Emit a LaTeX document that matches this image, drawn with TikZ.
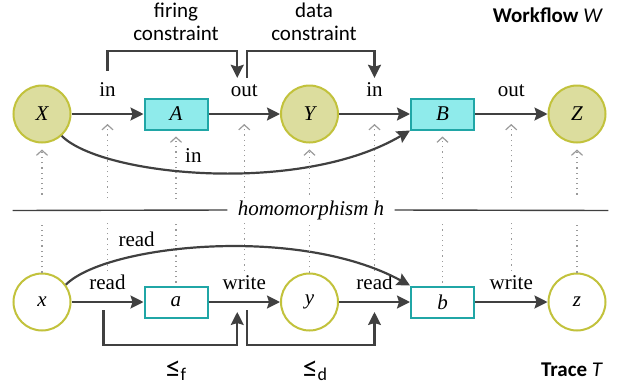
\documentclass[tikz,border=0pt]{standalone}
\usepackage{fontspec}
\setmainfont{Liberation Serif}
\setsansfont{Carlito}
\usepackage{xcolor}
\usetikzlibrary{arrows.meta,positioning}
\definecolor{ink}{HTML}{404040}
\definecolor{olivefill}{HTML}{DCDD9E}
\definecolor{oliveline}{HTML}{C2C23C}
\definecolor{cyanfill}{HTML}{8FEBEB}
\definecolor{tealline}{HTML}{20A6A6}
\definecolor{mapgray}{HTML}{9A9A9A}
\newcommand{\figsize}{\fontsize{10.5}{11.5}\selectfont}
% order symbol with a small lowered index
\newcommand{\orderrel}[1]{{\fontsize{15}{15}\selectfont ≤}\raisebox{-1.5pt}{\fontsize{9}{9}\selectfont #1}}
\tikzset{
  dataset/.style={
    circle,
    minimum size=28.5pt,
    inner sep=0pt,
    draw=oliveline,
    line width=1pt,
    font=\figsize\itshape
  },
  wfdata/.style={dataset, fill=olivefill},
  trdata/.style={dataset, fill=white},
  actor/.style={
    rectangle,
    minimum width=31.5pt,
    minimum height=15.5pt,
    inner sep=0pt,
    draw=tealline,
    line width=1pt,
    font=\figsize\itshape
  },
  wfactor/.style={actor, fill=cyanfill},
  tractor/.style={actor, fill=white},
  port/.style={
    inner sep=2pt,
    text height=0.7em,
    text depth=0.2em,
    font=\figsize
  },
  flow/.style={
    -{Stealth[length=6.5pt,width=6.5pt,inset=1pt]},
    draw=ink,
    line width=1.1pt
  },
  maps/.style={
    -{Straight Barb[length=2.5pt,width=5.5pt]},
    draw=mapgray,
    line width=0.6pt,
    dash pattern=on 0.6pt off 2pt
  },
  caption/.style={font=\sffamily\figsize, align=center},
  title/.style={font=\sffamily\figsize, anchor=east}
}

\begin{document}
\begin{tikzpicture}[x=0.5pt, y=-0.5pt]
\useasboundingbox (0,0) rectangle (623,387);

% ---- Workflow W ----
\node[wfdata] (X) at (42,114) {X};
\node[wfactor] (A) at (176,114) {A};
\node[wfdata] (Y) at (309.5,114) {Y};
\node[wfactor] (B) at (442.5,114) {B};
\node[wfdata] (Z) at (577,114) {Z};

\draw[flow] (X) -- node[port, above=4pt] (inXA) {in} coordinate (mXA) (A);
\draw[flow] (A) -- node[port, above=4pt] (outAY) {out} coordinate (mAY) (Y);
\draw[flow] (Y) -- node[port, above=4pt] (inYB) {in} coordinate (mYB) (B);
\draw[flow] (B) -- node[port, above=4pt] (outBZ) {out} coordinate (mBZ) (Z);
\draw[flow] (X.-48) .. controls +(40,40) and +(-110,65) ..
  node[port, above, pos=.46] (inXB) {in} (B.south west);

% ---- Trace T ----
\node[trdata] (x) at (42,302) {x};
\node[tractor] (a) at (176,302) {a};
\node[trdata] (y) at (309.5,302) {y};
\node[tractor] (b) at (442.5,302) {b};
\node[trdata] (z) at (577,302) {z};

\draw[flow] (x) -- node[port, above=1.5pt] (rdxa) {read} coordinate (mxa) (a);
\draw[flow] (a) -- node[port, above=1.5pt] (wray) {write} coordinate (may) (y);
\draw[flow] (y) -- node[port, above=1.5pt] (rdyb) {read} coordinate (myb) (b);
\draw[flow] (b) -- node[port, above=1.5pt] (wrbz) {write} coordinate (mbz) (z);
\draw[flow] (x.36) .. controls +(40,-40) and +(-112,-61) ..
  node[port, above, pos=.3] (rdxb) {read} (b.north west);

% ---- Homomorphism links, trace up to workflow ----
\draw[maps, shorten >=3pt] (x) -- (X);
\draw[maps, shorten >=5pt] (rdxa.north) -- (rdxa.north |- mXA);
\draw[maps, shorten <=1.5pt, shorten >=3pt] (a) -- (A);
\draw[maps, shorten >=5pt] (wray.north) -- (wray.north |- mAY);
\draw[maps, shorten >=3pt] (y) -- (Y);
\draw[maps, shorten >=5pt] (rdyb.north) -- (rdyb.north |- mYB);
\draw[maps, shorten <=1.5pt, shorten >=3pt] (b) -- (B);
\draw[maps, shorten >=5pt] (wrbz.north) -- (wrbz.north |- mBZ);
\draw[maps, shorten >=3pt] (z) -- (Z);

% separator, cut out of the dotted links
\node[fill=white, minimum width=297.5pt, minimum height=11.5pt, inner sep=0pt]
  (band) at (310.5,210.5) {};
\node[font=\figsize\itshape, inner xsep=5pt] (hom) at (311,210) {homomorphism h};
\draw[ink, line width=0.7pt] (band.west) -- (hom.west) (hom.east) -- (band.east);

% ---- Constraints ----
\draw[flow, shorten <=3.5pt] (inXA.north) -- ++(0,-27) -| ([xshift=-3.5pt]outAY.north);
\draw[flow] ([xshift=1.5pt]outAY.north) -- ++(0,-27) -| (inYB.north);
\node[caption] (firing) at (176,22) {firing\\constraint};
\node[caption] (data) at (314,22) {data\\constraint};

\draw[flow, shorten <=4pt, shorten >=5pt] ([xshift=-2pt]mxa) -- ++(0,43) -| ([xshift=-3.5pt]may);
\draw[flow, shorten <=4pt, shorten >=5pt] ([xshift=1.5pt]may) -- ++(0,43) -| (myb);
\node[caption] (lef) at (176,371) {\orderrel{f}};
\node[caption] (led) at (315,371) {\orderrel{d}};

% ---- Titles ----
\node[title] (wftitle) at (610,15) {\textbf{Workflow} \textit{W}};
\node[title] (trtitle) at (610,370) {\textbf{Trace} \textit{T}};

\end{tikzpicture}
\end{document}
